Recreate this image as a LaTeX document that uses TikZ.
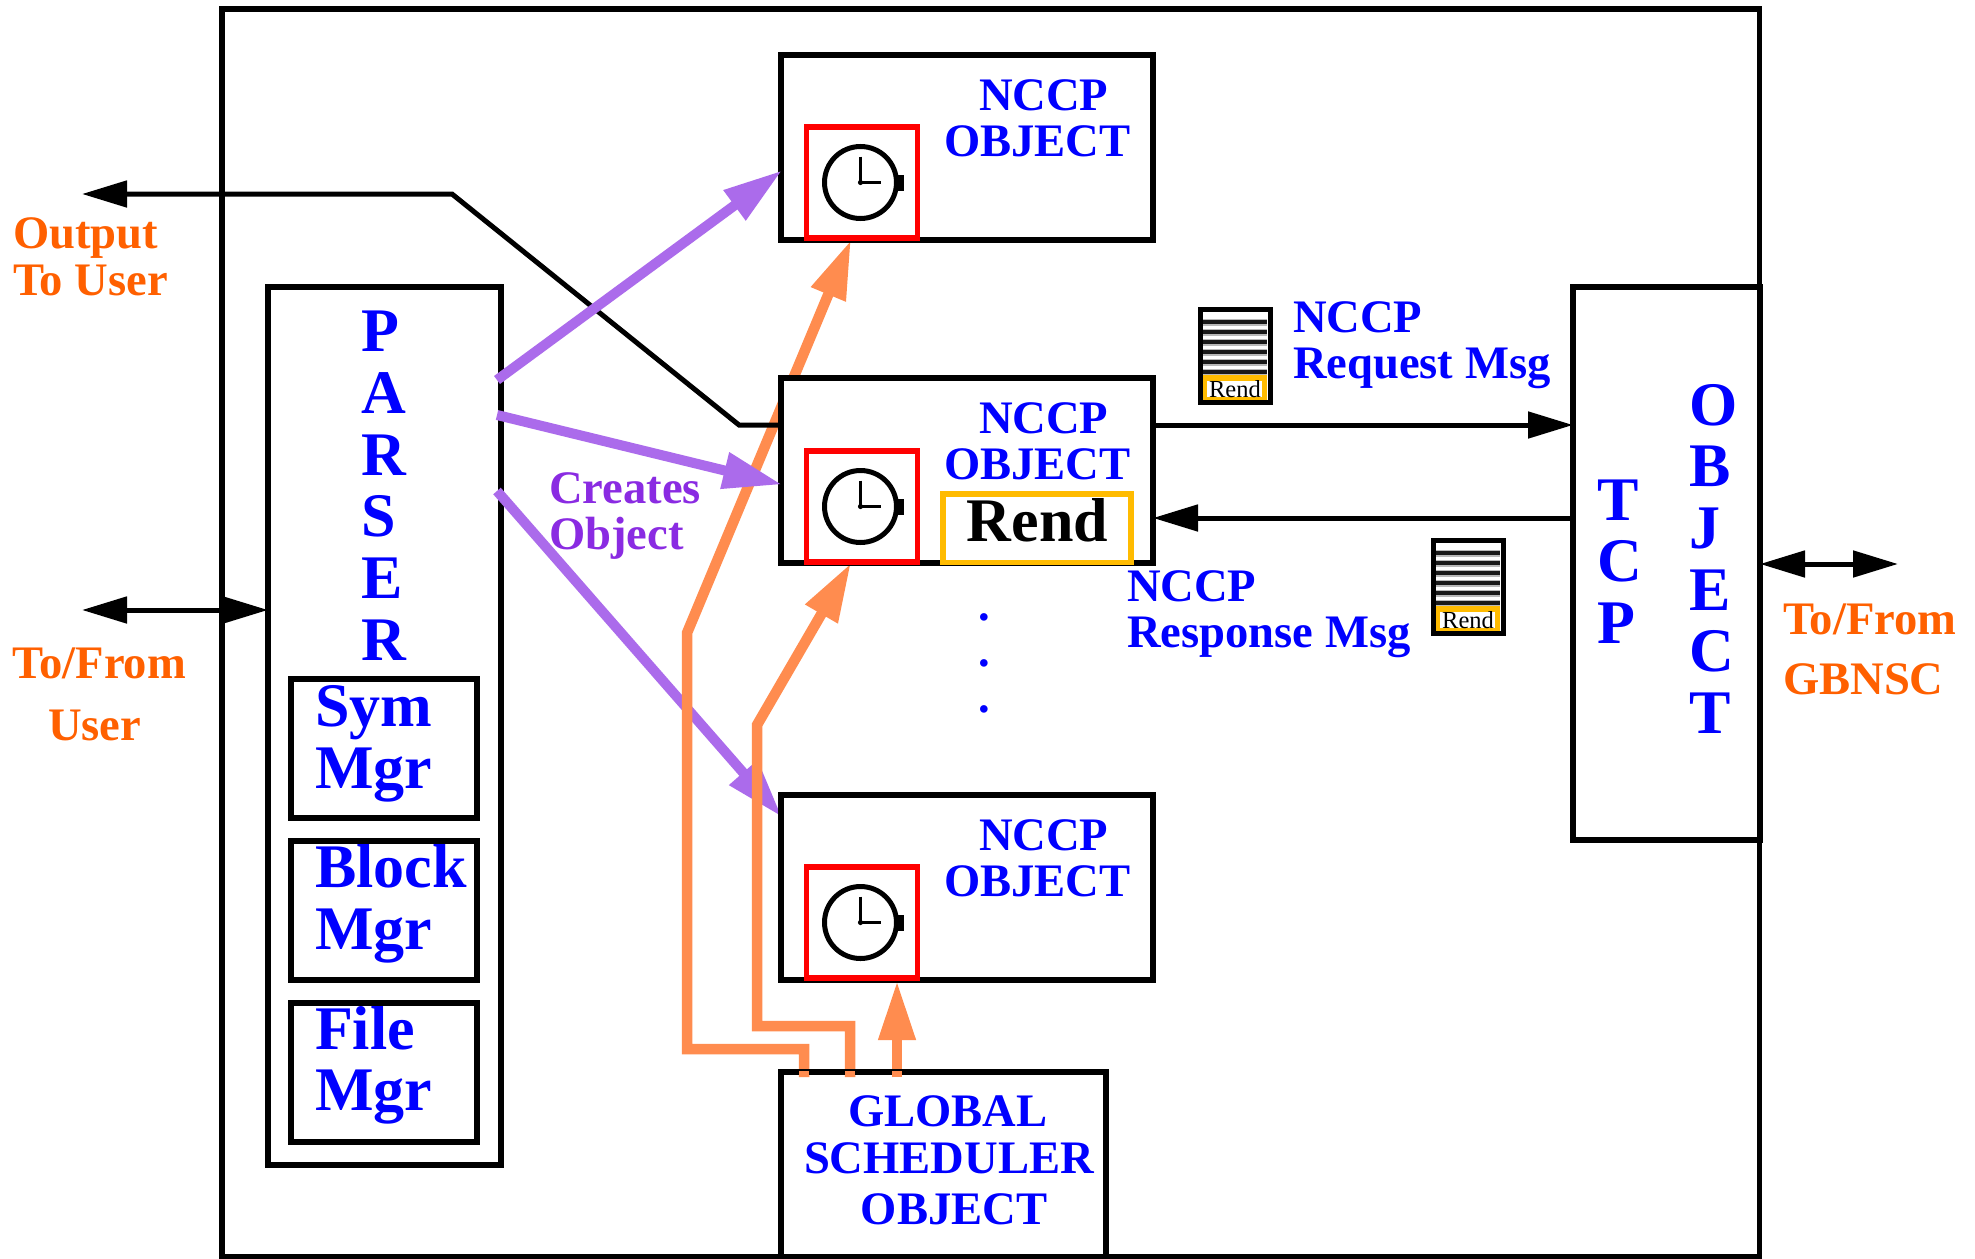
\documentclass[tikz,border=0pt]{standalone}
\usepackage{fontspec}
\setmainfont{Liberation Serif}
\usetikzlibrary{arrows.meta}
\definecolor{archorange}{HTML}{FF8C4F}
\definecolor{archpurple}{HTML}{AB6BEB}
\definecolor{textpurple}{HTML}{8A2BE2}
\definecolor{textorange}{HTML}{FF6000}
\definecolor{rendyellow}{HTML}{FFBB00}
\newcommand\stackL[1]{\begin{tabular}[t]{@{}l@{}}#1\end{tabular}}
\newcommand\stackC[1]{\begin{tabular}[t]{@{}c@{}}#1\end{tabular}}
\tikzset{
  rect/.style 2 args={draw=black,line width=5.2pt,fill=white,inner sep=0pt,outer sep=0pt,
    anchor=north west,minimum width=#1pt,minimum height=#2pt},
  redbox/.style={draw=red,line width=5.2pt,fill=white,inner sep=0pt,outer sep=0pt,
    anchor=north west,minimum width=111pt,minimum height=111pt},
  rendbox/.style={draw=rendyellow,line width=5.2pt,inner sep=0pt,outer sep=0pt,
    anchor=north west,minimum width=188pt,minimum height=68.8pt},
  txt/.style={inner sep=0pt,outer sep=0pt,anchor=base west,text=blue},
  small/.style={txt,font=\fontsize{46.6}{46}\selectfont\bfseries},
  big/.style={txt,font=\fontsize{62}{61.7}\selectfont\bfseries},
  thinarrow/.style={draw=black,line width=5pt,-{Triangle[length=45pt,width=26pt]}},
  thindouble/.style={draw=black,line width=5pt,{Triangle[length=45pt,width=26pt]}-{Triangle[length=45pt,width=26pt]}},
  purplearrow/.style={draw=archpurple,line width=10pt,-{Triangle[length=59pt,width=35pt]}},
  orangearrow/.style={draw=archorange,line width=10.5pt,-{Triangle[length=59pt,width=35pt]}},
  clock/.pic={
    \draw[line width=5pt] (-1.5,0) circle[radius=36pt];
    \fill (36,-8) rectangle (42,8);
    \draw[line width=2.5pt] (-1.5,-26) -- (-1.5,0) -- (19,0);
    \fill (-1.5,0) circle[radius=2.6pt];
  },
  msgicon/.pic={
    \fill[white] (2.5,2.5) rectangle (72.5,95.5);
    \foreach \s in {15,25,35,45,55,65}{
      \draw[gray!55,line width=7pt] (5,\s) -- (69,\s);
    }
    \foreach \s in {15,25,35,45,55,65}{
      \draw[black!90,line width=4pt] (5,\s) -- (69,\s);
    }
    \fill[rendyellow] (5,68) rectangle (69,94);
    \fill[white] (9,74) rectangle (64,90);
    \node[inner sep=0pt,anchor=base,text=black,font=\fontsize{24.5}{25}\selectfont] (rend) at (37,90) {Rend};
    \draw[line width=5.2pt] (2.5,2.5) rectangle (72.5,95.5);
  },
}
\begin{document}
\begin{tikzpicture}[x=1pt,y=-1pt]
\useasboundingbox (0,0) rectangle (1975,1258);
\fill[white] (0,0) rectangle (1975,1258);

% outer frame
\node[rect={1537.5}{1247.5},fill=none] (frame) at (222,9) {};

% parser with its managers
\node[rect={233}{878}] (parser) at (268,287) {};
\node[rect={186}{139}] (sym) at (291,679) {};
\node[rect={186}{139}] (block) at (291,841) {};
\node[rect={186}{139}] (file) at (291,1003) {};
\node[big] (parsertxt) at (361.5,351.6) {\stackL{P\\A\\R\\S\\E\\R}};
\node[big] (symtxt) at (315,726.5) {\stackL{Sym\\Mgr}};
\node[big] (blocktxt) at (315,887.5) {\stackL{Block\\Mgr}};
\node[big] (filetxt) at (315,1049) {\stackL{File\\Mgr}};

% TCP object
\node[rect={187}{553}] (tcp) at (1573,287) {};
\node[big] (tcptxt) at (1597,520) {\stackL{T\\C\\P}};
\node[big] (objtxt) at (1689,425) {\stackL{O\\B\\J\\E\\C\\T}};

% free ends of the connectors
\coordinate (p1s) at (497,380);
\coordinate (p2s) at (497,415);
\coordinate (p3s) at (497,491);
\coordinate (p1e) at (782,170.5);
\coordinate (p2e) at (782,484.5);
\coordinate (p3e) at (782,817);
\coordinate (o1s) at (804,1077);
\coordinate (o2s) at (850,1077);
\coordinate (o3s) at (897,1077);
\coordinate (o1e) at (851,240);
\coordinate (o2e) at (851,563);
\coordinate (o3e) at (897,981);
\coordinate (outtip) at (82,194);
\coordinate (userend) at (82,610);
\coordinate (gbnsc) at (1898,564);

% lower purple arrow lies under the orange routes
\draw[purplearrow] (p3s) -- (p3e);

% orange routes
\draw[orangearrow] (o1s) -- (804,1049) -- (687,1049) -- (687,633) -- (o1e);
\draw[orangearrow] (o2s) -- (850,1026) -- (757,1026) -- (757,725) -- (o2e);
\draw[orangearrow] (o3s) -- (o3e);

% NCCP objects
\node[rect={372}{185},fill=none] (nccpa) at (781,55) {};
\node[rect={372}{185}] (nccpb) at (781,378) {};
\node[rect={372}{185}] (nccpc) at (781,795) {};
\node[redbox] (ta) at (806.5,127) {};
\node[redbox] (tb) at (806.5,451) {};
\node[redbox] (tc) at (806.5,867) {};
\pic at (ta.center) {clock};
\pic at (tb.center) {clock};
\pic at (tc.center) {clock};
\node[small] (na) at (944,110) {\stackL{\hspace*{35pt}NCCP\\OBJECT}};
\node[small] (nb) at (944,433) {\stackL{\hspace*{35pt}NCCP\\OBJECT}};
\node[small] (nc) at (944,850) {\stackL{\hspace*{35pt}NCCP\\OBJECT}};
\node[rendbox] (rendb) at (943,494) {};
\node[big,anchor=base,text=black] (rendt) at (1037.5,541.5) {Rend};
\node[small,anchor=base] (da) at (984,620) {.};
\node[small,anchor=base] (db) at (984,666) {.};
\node[small,anchor=base] (dc) at (984,712) {.};

% global scheduler
\node[rect={325}{184.5},fill=none] (global) at (781,1072) {};
\node[small,anchor=base] (g1) at (948,1126) {GLOBAL};
\node[small,anchor=base] (g2) at (949,1173) {SCHEDULER};
\node[small,anchor=base] (g3) at (954,1224) {OBJECT};
\draw[archorange,line width=10.5pt] (o1s) -- ++(0,-6);
\draw[archorange,line width=10.5pt] (o2s) -- ++(0,-6);
\draw[archorange,line width=10.5pt] (o3s) -- ++(0,-6);

% black connectors
\draw[thinarrow] (nccpb.west |- 0,425) -- (739,425) -- (452,194) -- (outtip);
\draw[thindouble] (userend) -- (parser.west |- userend);
\draw[thindouble] (tcp.east |- gbnsc) -- (gbnsc);
\draw[thinarrow] (nccpb.east |- 0,425) -- (tcp.west |- 0,425);
\draw[thinarrow] (tcp.west |- 0,518) -- (nccpb.east |- 0,518);

% upper purple arrows
\draw[purplearrow] (p1s) -- (p1e);
\draw[purplearrow] (p2s) -- (p2e);

% message icons
\pic at (1198,307) {msgicon};
\pic at (1431,538) {msgicon};

% labels
\node[small] (reqt) at (1293,332) {\stackL{NCCP\\Request Msg}};
\node[small] (rest) at (1127,601) {\stackL{NCCP\\Response Msg}};
\node[small,text=textpurple] (creat) at (549,503) {\stackL{Creates\\Object}};
\node[small,text=textorange] (outt) at (13,248) {\stackL{Output\\[1pt]To User}};
\node[small,text=textorange] (uf) at (12.5,678) {To/From};
\node[small,text=textorange] (uu) at (48,740) {User};
\node[small,text=textorange] (gf) at (1783,634) {To/From};
\node[small,text=textorange] (gg) at (1783,694) {GBNSC};
\end{tikzpicture}
\end{document}
